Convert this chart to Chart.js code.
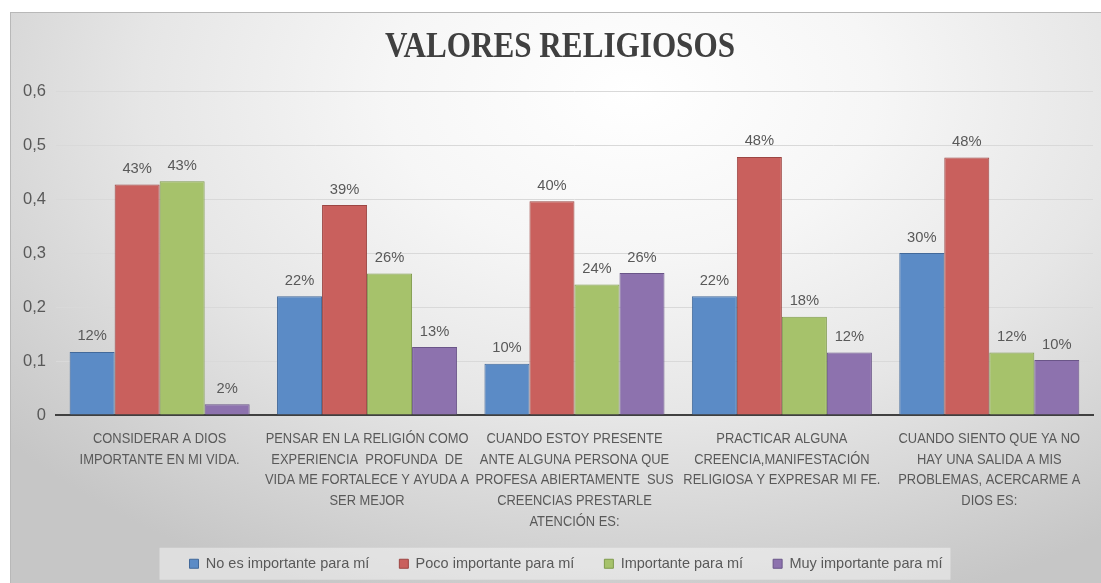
<!DOCTYPE html>
<html>
<head>
<meta charset="utf-8">
<script src="https://cdn.jsdelivr.net/npm/chart.js@4/dist/chart.umd.min.js"></script>
<style>
  html, body { margin: 0; padding: 0; background: #ffffff; width: 1101px; height: 583px; overflow: hidden; }
  #frame {
    position: absolute; left: 10px; top: 12px; width: 1091px; height: 571px;
    box-sizing: border-box; border-top: 1px solid #b8b8b8; border-left: 1px solid #b8b8b8;
    background: radial-gradient(ellipse 75% 95% at 57% 14%, #ffffff 0%, #f6f6f6 30%, #e6e6e6 60%, #d2d2d2 85%, #c6c6c6 100%);
  }
  #c { position: absolute; left: 0; top: 0; }
</style>
</head>
<body>
<div id="frame"><canvas id="c" width="1090" height="570"></canvas></div>
<script>
// ---- data ----
const categories = [
  ["CONSIDERAR A DIOS", "IMPORTANTE EN MI VIDA."],
  ["PENSAR EN LA RELIGIÓN COMO", "EXPERIENCIA  PROFUNDA  DE", "VIDA ME FORTALECE Y AYUDA A", "SER MEJOR"],
  ["CUANDO ESTOY PRESENTE", "ANTE ALGUNA PERSONA QUE", "PROFESA ABIERTAMENTE  SUS", "CREENCIAS PRESTARLE", "ATENCIÓN ES:"],
  ["PRACTICAR ALGUNA", "CREENCIA,MANIFESTACIÓN", "RELIGIOSA Y EXPRESAR MI FE."],
  ["CUANDO SIENTO QUE YA NO", "HAY UNA SALIDA A MIS", "PROBLEMAS, ACERCARME A", "DIOS ES:"]
];
const seriesNames = ["No es importante para mí", "Poco importante para mí", "Importante para mí", "Muy importante para mí"];
const noImportante   = [0.117, 0.220, 0.095, 0.220, 0.300];
const pocoImportante = [0.427, 0.389, 0.396, 0.478, 0.477];
const importante     = [0.433, 0.262, 0.242, 0.182, 0.116];
const muyImportante  = [0.020, 0.126, 0.263, 0.116, 0.102];
const yTicks = [0, 0.1, 0.2, 0.3, 0.4, 0.5, 0.6];
const chartTitle = "VALORES RELIGIOSOS";

const fills   = ["#5b8bc6", "#c9605d", "#a6c26b", "#8d72ae"];
const borders = ["#42699a", "#9c4643", "#7f9a4c", "#6a5588"];
const sans = "'Liberation Sans', Arial, sans-serif";
const serif = "'Liberation Serif', 'Times New Roman', serif";
const txt = "#595959";

const seriesValues = [noImportante, pocoImportante, importante, muyImportante];

// draws text compressed horizontally (the reference uses condensed faces)
function drawSqueezed(ctx, text, x, y, sx) {
  ctx.save();
  ctx.translate(x, y);
  ctx.scale(sx, 1);
  ctx.fillText(text, 0, 0);
  ctx.restore();
}

const valueLabels = {
  id: 'valueLabels',
  afterDatasetsDraw(chart) {
    const ctx = chart.ctx;
    ctx.save();
    ctx.font = "15.5px " + sans;
    ctx.fillStyle = txt;
    ctx.textAlign = 'center';
    ctx.textBaseline = 'bottom';
    chart.data.datasets.forEach((ds, i) => {
      chart.getDatasetMeta(i).data.forEach((bar, j) => {
        drawSqueezed(ctx, Math.round(ds.data[j] * 100) + '%', bar.x, bar.y - 8, 0.95);
      });
    });
    ctx.restore();
  }
};

const squeezedText = {
  id: 'squeezedText',
  afterDraw(chart) {
    const ctx = chart.ctx;
    // title
    const tb = chart.titleBlock;
    ctx.save();
    ctx.fillStyle = '#404040';
    ctx.font = "bold 35px " + serif;
    ctx.textAlign = 'center';
    ctx.textBaseline = 'middle';
    drawSqueezed(ctx, chartTitle, (tb.left + tb.right) / 2 + 7, tb.top + 14 + 21, 0.89);
    // category labels
    const xs = chart.scales.x;
    ctx.font = "15px " + sans;
    ctx.fillStyle = txt;
    categories.forEach((lines, i) => {
      const cx = xs.getPixelForValue(i);
      lines.forEach((ln, k) => {
        drawSqueezed(ctx, ln, cx, xs.top + 24 + k * 20.6, 0.86);
      });
    });
    ctx.restore();
  }
};

const legendShift = {
  id: 'legendShift',
  afterLayout(chart) {
    const lg = chart.legend;
    if (lg) { lg.left += 13; lg.right += 13; }
  }
};

const legendBg = {
  id: 'legendBg',
  beforeDraw(chart) {
    const lg = chart.legend;
    if (!lg || !lg.legendHitBoxes || !lg.legendHitBoxes.length) return;
    const hb = lg.legendHitBoxes;
    const first = hb[0], last = hb[hb.length - 1];
    const ctx = chart.ctx;
    ctx.save();
    ctx.fillStyle = 'rgba(255,255,255,0.42)';
    const x0 = first.left - 30, x1 = last.left + last.width + 8;
    const yc = first.top + first.height / 2;
    ctx.fillRect(x0, yc - 16, x1 - x0, 32);
    ctx.restore();
  }
};

new Chart(document.getElementById('c'), {
  type: 'bar',
  data: {
    labels: categories,
    datasets: seriesNames.map((name, i) => ({
      label: name,
      data: seriesValues[i],
      backgroundColor: fills[i],
      borderColor: borders[i],
      borderWidth: 1,
      categoryPercentage: 0.868,
      barPercentage: 1.0
    }))
  },
  options: {
    responsive: false,
    animation: false,
    devicePixelRatio: 1,
    layout: { padding: { left: 2, right: 8, top: 0, bottom: 2 } },
    plugins: {
      title: {
        display: true,
        text: chartTitle,
        color: 'rgba(0,0,0,0)',
        font: { family: serif, size: 35, weight: 'bold' },
        padding: { top: 14, bottom: 22 }
      },
      legend: {
        position: 'bottom',
        labels: {
          boxWidth: 9, boxHeight: 9,
          color: txt,
          font: { family: sans, size: 14.5 },
          padding: 30
        }
      },
      tooltip: { enabled: false }
    },
    scales: {
      y: {
        min: 0, max: 0.6,
        afterBuildTicks(axis) { axis.ticks = yTicks.map(v => ({ value: v })); },
        ticks: {
          color: txt,
          font: { family: sans, size: 16.5 },
          padding: 10,
          callback: v => v === 0 ? '0' : String(Math.round(v * 10) / 10).replace('.', ',')
        },
        grid: { color: '#d9d9d9', lineWidth: 1, drawTicks: false },
        border: { display: false }
      },
      x: {
        ticks: {
          color: 'rgba(0,0,0,0)',
          font: { family: sans, size: 14, lineHeight: 1.477 },
          maxRotation: 0, minRotation: 0, autoSkip: false,
          padding: 0
        },
        grid: { display: false },
        border: { display: true, color: '#404040', width: 2 }
      }
    }
  },
  plugins: [legendShift, legendBg, valueLabels, squeezedText]
});
</script>
</body>
</html>
